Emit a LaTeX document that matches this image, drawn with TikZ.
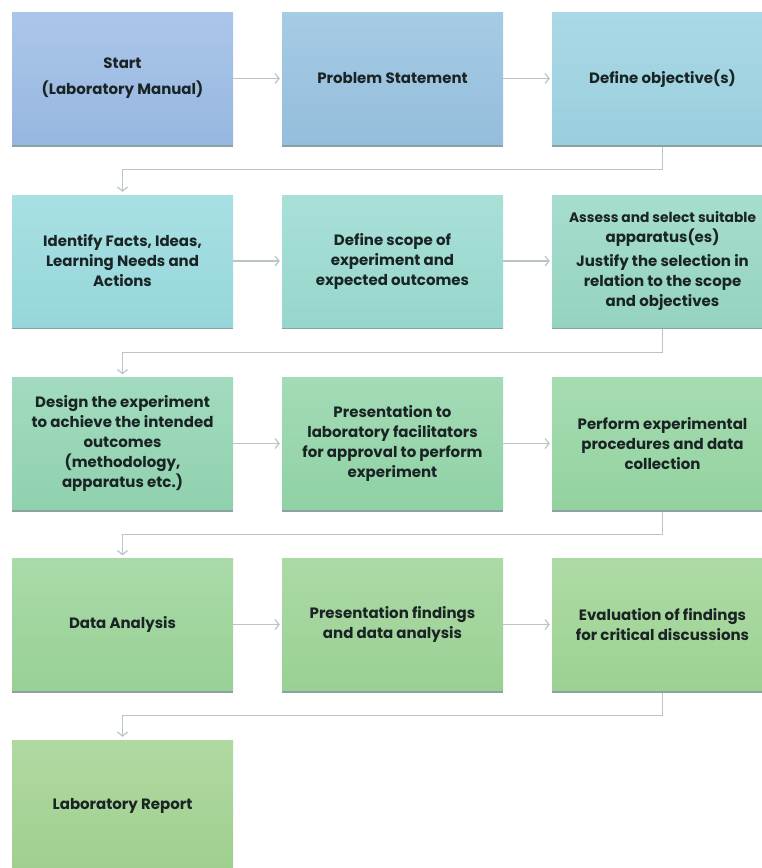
\documentclass[tikz,border=0pt]{standalone}
\usepackage{fontspec}
\setmainfont{Poppins}
\usetikzlibrary{arrows.meta}
\definecolor{txt}{HTML}{1A2424}
\definecolor{conn}{HTML}{B9C6C4}
\definecolor{shad}{HTML}{8AA2A2}
\definecolor{t1}{HTML}{ABC6EA}\definecolor{b1}{HTML}{97B7E0}
\definecolor{t2}{HTML}{A6CBE5}\definecolor{b2}{HTML}{94BEDB}
\definecolor{t3}{HTML}{AAD8E6}\definecolor{b3}{HTML}{9ACFDD}
\definecolor{t4}{HTML}{A8E0E3}\definecolor{b4}{HTML}{96D6DA}
\definecolor{t5}{HTML}{A8E0D8}\definecolor{b5}{HTML}{97D6CB}
\definecolor{t6}{HTML}{A6DDCF}\definecolor{b6}{HTML}{95D3C0}
\definecolor{t7}{HTML}{A2DBBF}\definecolor{b7}{HTML}{90D1AE}
\definecolor{t8}{HTML}{A3DBB6}\definecolor{b8}{HTML}{90D1A5}
\definecolor{t9}{HTML}{A6DCB1}\definecolor{b9}{HTML}{93D2A0}
\definecolor{t10}{HTML}{AADAA8}\definecolor{b10}{HTML}{98D196}
\definecolor{t11}{HTML}{ACDAA6}\definecolor{b11}{HTML}{9AD094}
\definecolor{t12}{HTML}{AEDBA5}\definecolor{b12}{HTML}{9CD192}
\definecolor{t13}{HTML}{B0D9A2}\definecolor{b13}{HTML}{9FCF8E}
\tikzset{
  stepbox/.style={rectangle, minimum width=221pt, minimum height=132pt,
    top color=t#1, bottom color=b#1, draw=none, align=center, text=txt,
    font=\fontsize{15}{20}\selectfont\bfseries,
    preaction={fill=shad, transform canvas={yshift=-2pt}}},
  link/.style={draw=conn, line width=1.4pt, -{Straight Barb[length=4pt,width=10pt,line width=1.2pt]}, shorten >=2pt},
}
\begin{document}
\begin{tikzpicture}[x=1pt,y=-1pt]
\useasboundingbox[fill=white] (0,0) rectangle (761,868);
% row 1
\node[stepbox=1] (n1) at (122.5,78.5) {Start\\[6pt](Laboratory Manual)};
\node[stepbox=2] (n2) at (392.5,78.5) {Problem Statement};
\node[stepbox=3] (n3) at (662.5,78.5) {Define objective(s)};
% row 2
\node[stepbox=4] (n4) at (122.5,261) {Identify Facts, Ideas,\\Learning Needs and\\Actions};
\node[stepbox=5] (n5) at (392.5,261) {Define scope of\\experiment and\\expected outcomes};
\node[stepbox=6] (n6) at (662.5,261) {{\fontsize{13.8}{20}\selectfont Assess and select suitable}\\apparatus(es)\\[4pt]Justify the selection in\\relation to the scope\\and objectives};
% row 3
\node[stepbox=7] (n7) at (122.5,443.5) {Design the experiment\\to achieve the intended\\outcomes\\(methodology,\\apparatus etc.)};
\node[stepbox=8] (n8) at (392.5,443.5) {Presentation to\\laboratory facilitators\\for approval to perform\\experiment};
\node[stepbox=9] (n9) at (662.5,443.5) {Perform experimental\\procedures and data\\collection};
% row 4
\node[stepbox=10] (n10) at (122.5,624.5) {Data Analysis};
\node[stepbox=11] (n11) at (392.5,624.5) {Presentation findings\\and data analysis};
\node[stepbox=12] (n12) at (662.5,624.5) {Evaluation of findings\\for critical discussions};
% row 5
\node[stepbox=13] (n13) at (122.5,806) {Laboratory Report};
% connectors
\draw[link] (n1.east) -- (n2.west);
\draw[link] (n2.east) -- (n3.west);
\draw[link] (n4.east) -- (n5.west);
\draw[link] (n5.east) -- (n6.west);
\draw[link] (n7.east) -- (n8.west);
\draw[link] (n8.east) -- (n9.west);
\draw[link] (n10.east) -- (n11.west);
\draw[link] (n11.east) -- (n12.west);
\draw[link, shorten >=3pt] (n3.south) ++(0,2) -- ++(0,23) -| (n4.north);
\draw[link, shorten >=3pt] (n6.south) ++(0,2) -- ++(0,23) -| (n7.north);
\draw[link, shorten >=3pt] (n9.south) ++(0,2) -- ++(0,23) -| (n10.north);
\draw[link, shorten >=3pt] (n12.south) ++(0,2) -- ++(0,23) -| (n13.north);
\end{tikzpicture}
\end{document}
